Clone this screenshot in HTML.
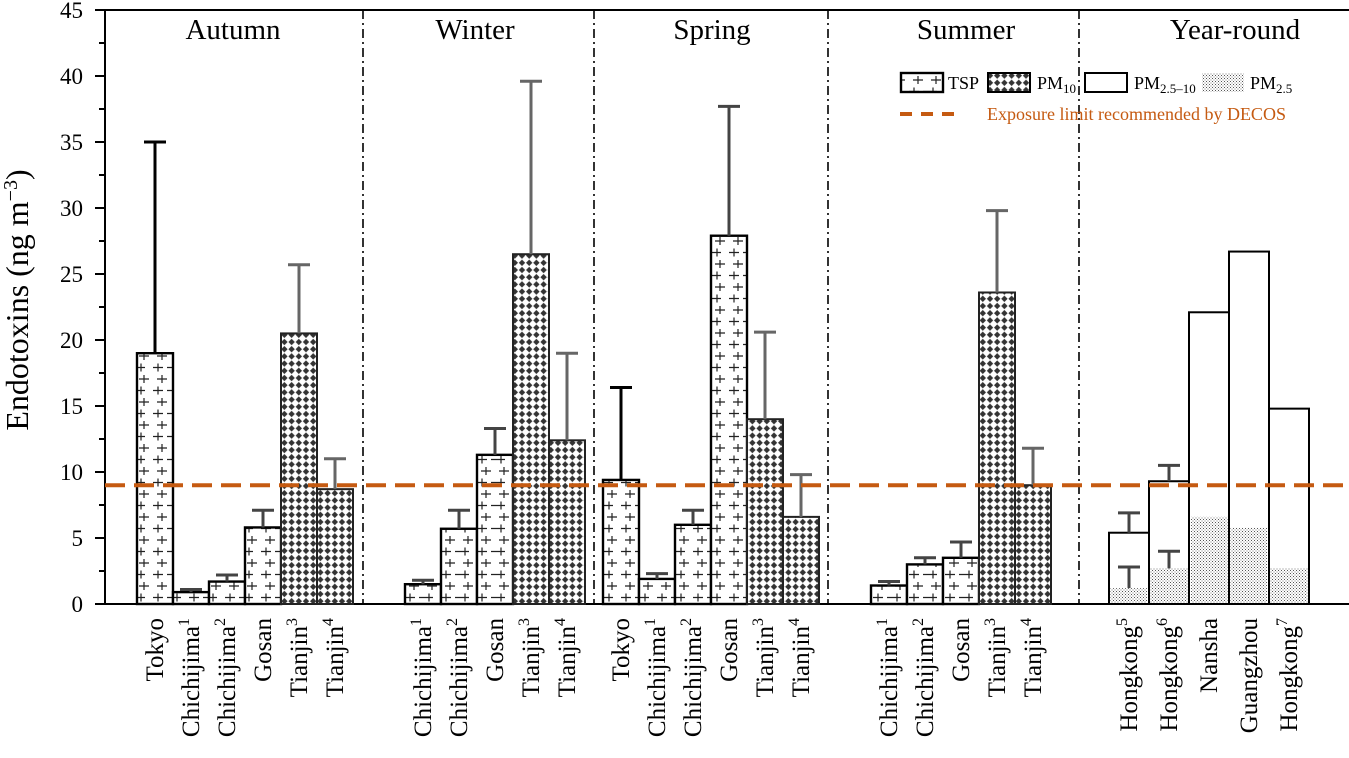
<!DOCTYPE html>
<html><head><meta charset="utf-8"><style>
body{margin:0;background:#fff;}
svg text{font-family:"Liberation Serif","DejaVu Serif",serif;}
</style></head><body>
<svg id="chart" width="1349" height="753" viewBox="0 0 1349 753" xmlns="http://www.w3.org/2000/svg" font-family="Liberation Serif, serif">
<defs>
<pattern id="tsp" patternUnits="userSpaceOnUse" width="36" height="23" x="137" y="604">
<rect width="36" height="23" fill="#fff"/>
<path d="M2 5h10M7 1v8M20 5h10M25 1v8M0 16.5h8M4 12.5v8M16 16.5h10M21 12.5v8M30 16.5h8" stroke="#222" stroke-width="1.2"/>
</pattern>
<pattern id="pm10" patternUnits="userSpaceOnUse" width="7.2" height="7.2">
<rect width="7.2" height="7.2" fill="#fff"/>
<path d="M3.6 0.4L6.8 3.6L3.6 6.8L0.4 3.6Z" fill="#333"/>
</pattern>
<pattern id="pm25" patternUnits="userSpaceOnUse" width="3" height="3">
<rect width="3" height="3" fill="#fff"/>
<rect width="1" height="1" fill="#555"/><rect x="1.5" y="1.5" width="1" height="1" fill="#777"/>
</pattern>
</defs>
<g id="plot"></g>
</svg>
<script>
// ---- data ----
const groups = ["Autumn","Winter","Spring","Summer","Year-round"];
const autumnSites = ["Tokyo","Chichijima|1","Chichijima|2","Gosan","Tianjin|3","Tianjin|4"];
const autumnVals = [19.0,0.9,1.7,5.8,20.5,8.7];
const autumnErr = [35.0,1.1,2.2,7.1,25.7,11.0];
const winterSites = ["Chichijima|1","Chichijima|2","Gosan","Tianjin|3","Tianjin|4"];
const winterVals = [1.5,5.7,11.3,26.5,12.4];
const winterErr = [1.8,7.1,13.3,39.6,19.0];
const springSites = ["Tokyo","Chichijima|1","Chichijima|2","Gosan","Tianjin|3","Tianjin|4"];
const springVals = [9.4,1.9,6.0,27.9,14.0,6.6];
const springErr = [16.4,2.3,7.1,37.7,20.6,9.8];
const summerSites = ["Chichijima|1","Chichijima|2","Gosan","Tianjin|3","Tianjin|4"];
const summerVals = [1.4,3.0,3.5,23.6,9.0];
const summerErr = [1.7,3.5,4.7,29.8,11.8];
const seasonTypes = ["TSP","TSP","TSP","TSP","PM10","PM10"];
const yearSites = ["Hongkong|5","Hongkong|6","Nansha","Guangzhou","Hongkong|7"];
const yearCoarse = [5.4,9.3,22.1,26.7,14.8];
const yearCoarseErr = [6.9,10.5,null,null,null];
const yearFine = [1.2,2.7,6.6,5.8,2.7];
const yearFineErr = [2.8,4.0,null,null,null];
const yTicks = [0,5,10,15,20,25,30,35,40,45];
const limitValue = 9;

// ---- layout ----
const NS="http://www.w3.org/2000/svg";
const g=document.getElementById('plot');
const X0=105, Y0=604, Ytop=10, W=1349;
const y=v=>Y0-(v/45)*(Y0-Ytop);
function el(tag,attrs,parent){const e=document.createElementNS(NS,tag);for(const k in attrs)e.setAttribute(k,attrs[k]);(parent||g).appendChild(e);return e;}

const ax=el('line',{x1:X0,y1:Ytop,x2:X0,y2:Y0+1,stroke:'#000','stroke-width':2});

const bx=el('line',{x1:X0-1,y1:Y0,x2:W,y2:Y0,stroke:'#000','stroke-width':2});

const tb=el('line',{x1:X0-1,y1:Ytop,x2:W,y2:Ytop,stroke:'#000','stroke-width':2});

yTicks.forEach(v=>{
  el('line',{x1:X0-10,y1:y(v),x2:X0,y2:y(v),stroke:'#000','stroke-width':2});
  if(v<45) el('line',{x1:X0-6,y1:y(v+2.5),x2:X0,y2:y(v+2.5),stroke:'#000','stroke-width':2});
  const t=el('text',{x:83,y:y(v)+8,'text-anchor':'end','font-size':23,'font-family':'Liberation Serif, serif'});
  t.textContent=v;
  
  
});
const yt=el('text',{transform:'translate(28,300) rotate(-90)','text-anchor':'middle','font-size':32,'font-family':'Liberation Serif, serif'});
yt.innerHTML='Endotoxins (ng m<tspan dy="-11" font-size="20">−3</tspan><tspan dy="11">)</tspan>';



const dividers=[363,594,828,1079];
dividers.forEach(x=>{
  const d=el('line',{x1:x,y1:Ytop,x2:x,y2:Y0,stroke:'#000','stroke-width':1.6,'stroke-dasharray':'9 4 2 4'});
  
  
});
const titleX=[233,475,712,966,1235];
groups.forEach((n,i)=>{
  const t=el('text',{x:titleX[i],y:39,'text-anchor':'middle','font-size':29,'font-family':'Liberation Serif, serif'});
  t.textContent=n;
  
  
});

function xlabel(name,cx){
  const [base,sup]=name.split('|');
  const t=el('text',{transform:`translate(${cx+8},618) rotate(-90)`,'text-anchor':'end','font-size':25,'font-family':'Liberation Serif, serif'});
  t.innerHTML=base+(sup?`<tspan dy="-10" font-size="16">${sup}</tspan>`:'');
  
  
}
function errbar(cx,top,err,color,sw){
  if(err==null)return;
  const e=el('path',{d:`M${cx} ${y(top)}V${y(err)}M${cx-11} ${y(err)}H${cx+11}`,stroke:color,'stroke-width':sw,fill:'none'});
  
  
}
function seasonBars(startX,sites,vals,errs,typeOffset,key){
  const bw=36;
  sites.forEach((s,i)=>{
    const x=startX+i*bw, type=seasonTypes[i+typeOffset];
    const r=el('rect',{x:x,y:y(vals[i]),width:bw,height:Y0-y(vals[i]),fill:type==='TSP'?'url(#tsp)':'url(#pm10)',stroke:type==='TSP'?'#000':'#222','stroke-width':type==='TSP'?2.4:2});
    
    
    const black=s==='Tokyo';
    errbar(x+bw/2,vals[i],errs[i],black?'#000':(type==='TSP'?'#444':'#666'),3);
    xlabel(s,x+bw/2);
  });
}
seasonBars(137,autumnSites,autumnVals,autumnErr,0,'autumn');
seasonBars(405,winterSites,winterVals,winterErr,1,'winter');
seasonBars(603,springSites,springVals,springErr,0,'spring');
seasonBars(871,summerSites,summerVals,summerErr,1,'summer');

yearSites.forEach((s,i)=>{
  const bw=40,x=1109+i*bw;
  const r=el('rect',{x:x,y:y(yearCoarse[i]),width:bw,height:Y0-y(yearCoarse[i]),fill:'#fff',stroke:'#000','stroke-width':2});
  
  
  const f=el('rect',{x:x+1.5,y:y(yearFine[i]),width:bw-3,height:Y0-y(yearFine[i])-1,fill:'url(#pm25)'});
  
  
  errbar(x+bw/2,yearCoarse[i],yearCoarseErr[i],'#444',3);
  errbar(x+bw/2,yearFine[i],yearFineErr[i],'#444',3);
  xlabel(s,x+bw/2);
});

const lim=el('line',{x1:X0,y1:y(limitValue),x2:W,y2:y(limitValue),stroke:'#c55a11','stroke-width':4,'stroke-dasharray':'20 9'});



const lg=el('g',{});


function lbox(x,fill,sw,label,tx,name){
  const b=el('rect',{x:x,y:73,width:42,height:19,fill:fill,stroke:fill==='url(#pm25)'?'none':'#000','stroke-width':sw},lg);
  
  
  const t=el('text',{x:tx,y:89,'font-size':18,'font-family':'Liberation Serif, serif'},lg);
  t.innerHTML=label;
  
  
}
lbox(901,'url(#tsp)',2.4,'TSP',948,'tsp');
lbox(988,'url(#pm10)',2,'PM<tspan dy="4" font-size="13">10</tspan>',1037,'pm10');
lbox(1085,'#fff',2,'PM<tspan dy="4" font-size="13">2.5–10</tspan>',1134,'pm25-10');
lbox(1202,'url(#pm25)',0,'PM<tspan dy="4" font-size="13">2.5</tspan>',1250,'pm25');
const ll=el('line',{x1:900,y1:114,x2:956,y2:114,stroke:'#c55a11','stroke-width':4,'stroke-dasharray':'12 9'},lg);


const lt=el('text',{x:987,y:120,'font-size':18,fill:'#c55a11','font-family':'Liberation Serif, serif'},lg);
lt.textContent='Exposure limit recommended by DECOS';


</script>
</body></html>
